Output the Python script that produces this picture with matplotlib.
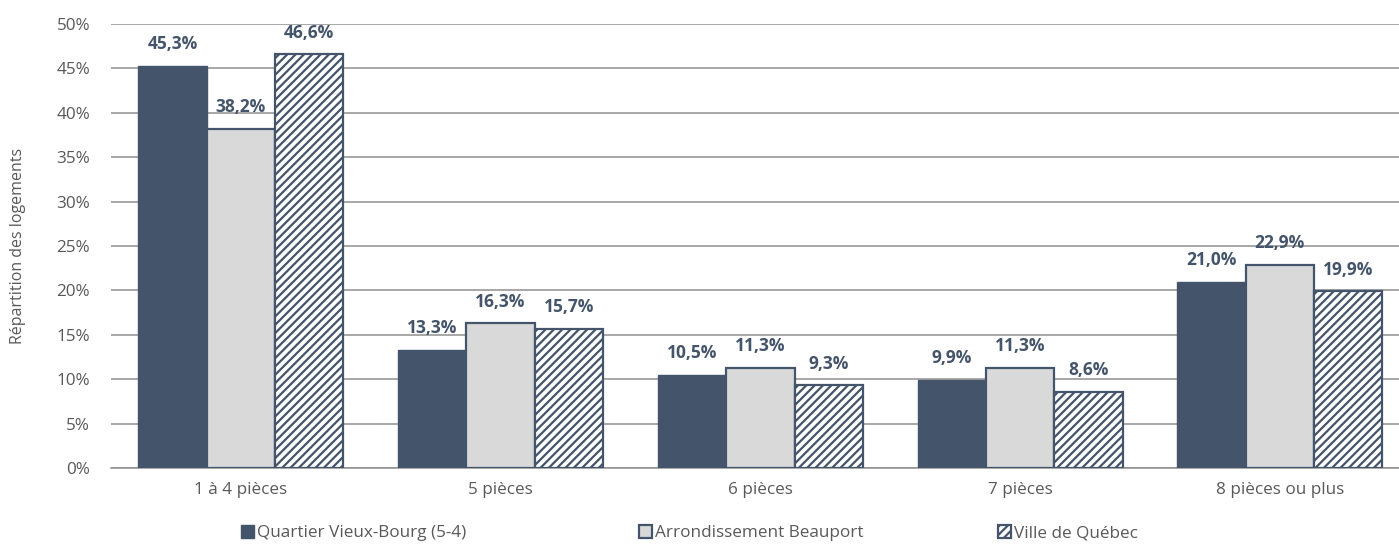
import matplotlib
matplotlib.use("Agg")
import matplotlib.pyplot as plt
import numpy as np

categories = ["1 à 4 pièces", "5 pièces", "6 pièces", "7 pièces", "8 pièces ou plus"]
series_names = ["Quartier Vieux-Bourg (5-4)", "Arrondissement Beauport", "Ville de Québec"]
quartier = [45.3, 13.3, 10.5, 9.9, 21.0]
arrond = [38.2, 16.3, 11.3, 11.3, 22.9]
ville = [46.6, 15.7, 9.3, 8.6, 19.9]
yticks = [0, 5, 10, 15, 20, 25, 30, 35, 40, 45, 50]

plt.rcParams['font.family'] = ['Open Sans', 'DejaVu Sans']
plt.rcParams['hatch.linewidth'] = 1.6

dark = "#44546A"
light = "#D9D9D9"
text_gray = "#595959"
grid_gray = "#8F8F8F"

fig = plt.figure(figsize=(13.99, 5.44), dpi=100)
ax = fig.add_axes([0.0793, 0.1397, 0.9207, 0.8162])

x = np.arange(len(categories))
w = 0.263
b1 = ax.bar(x - w, quartier, w, color=dark, edgecolor=dark, linewidth=1.0, label=series_names[0], zorder=3)
b2 = ax.bar(x, arrond, w, color=light, edgecolor=dark, linewidth=1.6, label=series_names[1], zorder=3)
b3 = ax.bar(x + w, ville, w, color="white", edgecolor=dark, linewidth=1.6, hatch="////", label=series_names[2], zorder=3)

def fmt(v):
    return f"{v:.1f}".replace(".", ",") + "%"

for bars, vals in [(b1, quartier), (b2, arrond), (b3, ville)]:
    for rect, v in zip(bars, vals):
        ax.annotate(fmt(v), (rect.get_x() + rect.get_width() / 2, v),
                    xytext=(0, 12), textcoords="offset points",
                    ha="center", va="baseline", fontsize=12.5, fontweight="bold", color=dark)

ax.set_ylim(0, 50)
ax.set_xlim(-0.5, 4.4586)
ax.set_yticks(yticks)
ax.set_yticklabels([f"{t}%" for t in yticks], fontsize=12.3, color=text_gray)
ax.set_xticks(x)
ax.set_xticklabels(categories, fontsize=12.3, color=text_gray)
ax.tick_params(axis="y", length=0, pad=15)
ax.tick_params(axis="x", length=0, pad=10)
ax.grid(axis="y", color=grid_gray, linewidth=1.1, zorder=0)
for s in ["top", "right", "left"]:
    ax.spines[s].set_visible(False)
ax.spines["bottom"].set_color(grid_gray)
ax.spines["bottom"].set_linewidth(1.1)
ax.set_ylabel("Répartition des logements", fontsize=11.5, color=text_gray, labelpad=22)

handles = [b1, b2, b3]
anchors = [241 / 1399, 639 / 1399, 998 / 1399]
for h, name, ax_x in zip(handles, series_names, anchors):
    leg = fig.legend(handles=[h], labels=[name], loc="center left",
                     bbox_to_anchor=(ax_x, 0.02), frameon=False, fontsize=12.3,
                     handlelength=0.75, handleheight=0.75, handletextpad=0.2,
                     borderpad=0, borderaxespad=0)
    for t in leg.get_texts():
        t.set_color(text_gray)

fig.savefig("out.png", dpi=100)
